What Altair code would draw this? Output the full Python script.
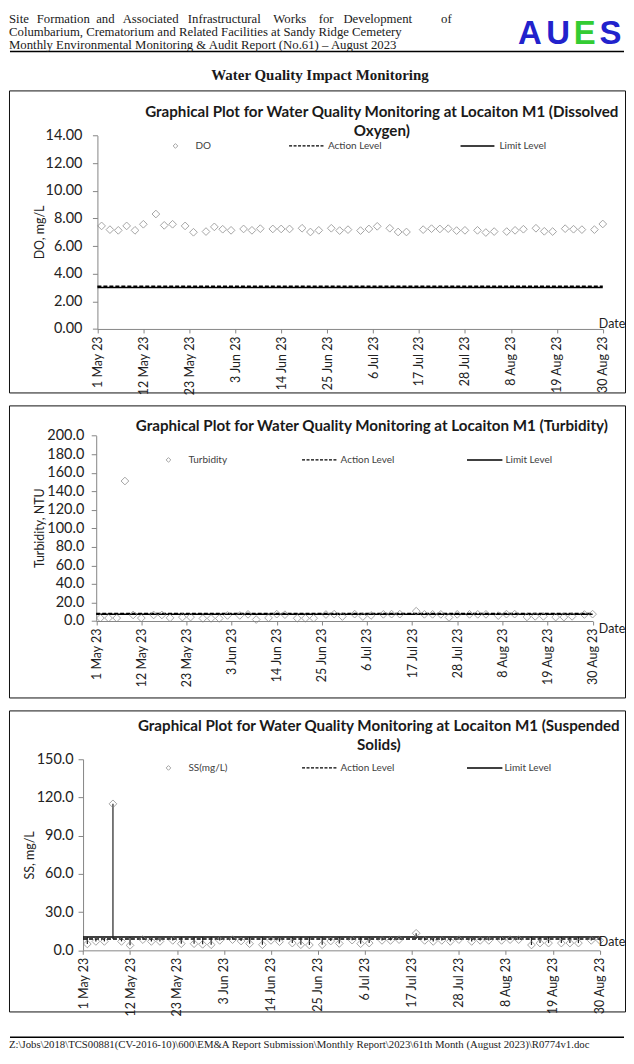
import altair as alt
import pandas as pd

# ---------------- data ----------------
dates = ["2023-05-02", "2023-05-04", "2023-05-06", "2023-05-08", "2023-05-10", "2023-05-12",
         "2023-05-15", "2023-05-17", "2023-05-19", "2023-05-22", "2023-05-24", "2023-05-27",
         "2023-05-29", "2023-05-31", "2023-06-02", "2023-06-05", "2023-06-07", "2023-06-09",
         "2023-06-12", "2023-06-14", "2023-06-16", "2023-06-19", "2023-06-21", "2023-06-23",
         "2023-06-26", "2023-06-28", "2023-06-30", "2023-07-03", "2023-07-05", "2023-07-07",
         "2023-07-10", "2023-07-12", "2023-07-14", "2023-07-18", "2023-07-20", "2023-07-22",
         "2023-07-24", "2023-07-26", "2023-07-28", "2023-07-31", "2023-08-02", "2023-08-04",
         "2023-08-07", "2023-08-09", "2023-08-11", "2023-08-14", "2023-08-16", "2023-08-18",
         "2023-08-21", "2023-08-23", "2023-08-25", "2023-08-28", "2023-08-30"]

do_values = [7.46, 7.19, 7.14, 7.46, 7.14, 7.58, 8.32, 7.50, 7.58, 7.46, 7.00, 7.05, 7.39,
             7.22, 7.14, 7.24, 7.14, 7.26, 7.24, 7.24, 7.24, 7.29, 7.02, 7.14, 7.29, 7.12,
             7.19, 7.12, 7.24, 7.43, 7.29, 7.02, 7.02, 7.19, 7.26, 7.24, 7.26, 7.12, 7.14,
             7.14, 6.98, 7.05, 7.05, 7.14, 7.22, 7.29, 7.07, 7.05, 7.26, 7.22, 7.19, 7.19, 7.60]

turbidity_values = [3.2, 3.2, 3.2, 151.0, 6.5, 3.2, 6.5, 6.5, 3.4, 4.2, 4.2, 2.8, 2.8, 2.8,
                    6.0, 6.0, 7.2, 1.6, 3.4, 7.4, 6.8, 3.0, 3.0, 3.0, 7.0, 7.4, 4.8, 7.4,
                    4.8, 6.0, 7.2, 7.4, 7.4, 10.6, 7.2, 7.2, 7.2, 3.9, 7.2, 7.2, 7.2, 7.2,
                    5.8, 7.4, 7.4, 4.4, 5.0, 5.0, 4.2, 4.2, 5.0, 7.0, 7.4]

ss_values = [5.0, 7.0, 7.0, 115.0, 7.0, 3.9, 8.4, 7.0, 7.0, 7.8, 5.2, 5.2, 4.7, 4.4, 7.8,
             8.4, 7.3, 5.2, 4.4, 7.8, 6.8, 5.7, 4.4, 4.2, 4.4, 7.3, 5.4, 8.0, 5.2, 5.7, 7.8,
             7.8, 8.4, 13.4, 7.8, 7.0, 7.8, 7.0, 8.4, 7.0, 7.8, 7.8, 7.8, 8.4, 8.4, 4.2, 5.7,
             5.7, 5.7, 5.7, 5.7, 7.8, 7.8]

tick_dates = ["2023-05-01", "2023-05-12", "2023-05-23", "2023-06-03", "2023-06-14", "2023-06-25",
              "2023-07-06", "2023-07-17", "2023-07-28", "2023-08-08", "2023-08-19", "2023-08-30"]
axis_start, axis_end = "2023-05-01", "2023-08-30"

do_action, do_limit = 3.1, 3.0
turb_action, turb_limit = 8.2, 7.2
ss_action, ss_limit = 8.9, 10.5

do_ticks = [0, 2, 4, 6, 8, 10, 12, 14]
turb_ticks = [0, 20, 40, 60, 80, 100, 120, 140, 160, 180, 200]
ss_ticks = [0, 30, 60, 90, 120, 150]

header_line1_words = ["Site", "Formation", "and", "Associated", "Infrastructural", "Works",
                      "for", "Development", "of"]
header_line2 = "Columbarium, Crematorium and Related Facilities at Sandy Ridge Cemetery"
header_line3 = "Monthly Environmental Monitoring & Audit Report (No.61) \u2013 August 2023"
section_title = "Water Quality Impact Monitoring"
footer_text = ("Z:\\Jobs\\2018\\TCS00881(CV-2016-10)\\600\\EM&A Report Submission\\Monthly Report"
               "\\2023\\61th Month (August 2023)\\R0774v1.doc")

# ---------------- layout ----------------
W = 618
FONT = "Lato"
SERIF = "Liberation Serif"
one = pd.DataFrame({"k": [0]})


def dt(s):
    y, m, d = s.split("-")
    return alt.DateTime(year=int(y), month=int(m), date=int(d), utc=True)


def txt(text, x, y, size, font=FONT, weight="normal", color="#1a1a1a", align="left",
        baseline="middle"):
    return alt.Chart(one).mark_text(text=text, font=font, fontSize=size, fontWeight=weight,
                                    color=color, align=align, baseline=baseline).encode(
        x=alt.value(x), y=alt.value(y))


def make_chart(values, name, ytitle, ydomain, yticks, yfmt, action, limit, H, xr, yr,
               title_lines, title_x, title_ys, ytitle_xy, leg, date_xy, ylabpad, highlow=False):
    df = pd.DataFrame({"date": dates, "value": values})
    lv = pd.DataFrame({"start": [axis_start] * 2, "end": [axis_end] * 2,
                       "level": [action, limit], "kind": ["Action", "Limit"]})
    xs = alt.Scale(type="utc", domain=[dt(axis_start), dt(axis_end)], range=list(xr))
    ys = alt.Scale(domain=list(ydomain), range=[yr[0], yr[1]], nice=False, zero=False)

    xaxis = alt.Axis(values=[dt(t) for t in tick_dates], format="%-d %b %y", labelAngle=270,
                     labelAlign="right", labelBaseline="middle", offset=yr[0] - H, title=None,
                     grid=False, domainColor="#868686", tickColor="#868686", tickSize=4,
                     labelPadding=3, labelFont=FONT, labelFontSize=12.5, labelColor="#222222")
    yaxis = alt.Axis(values=yticks, format=yfmt, offset=-xr[0], title=ytitle,
                     titleX=ytitle_xy[0] - xr[0], titleY=ytitle_xy[1], titleAngle=270,
                     titleAlign="center", titleBaseline="middle", titleFont=FONT,
                     titleFontSize=12.5, titleFontWeight="normal", titleColor="#222222",
                     labelFont=FONT, labelFontSize=14.5, labelColor="#222222", grid=False,
                     domainColor="#868686", tickColor="#868686", tickSize=5,
                     labelPadding=ylabpad)

    layers = []
    action_rule = alt.Chart(lv[lv.kind == "Action"]).mark_rule(
        color="black", strokeWidth=1.5, strokeDash=[4, 2]).encode(
        x=alt.X("start:T", scale=xs, axis=xaxis), x2="end:T",
        y=alt.Y("level:Q", scale=ys, axis=yaxis))
    limit_rule = alt.Chart(lv[lv.kind == "Limit"]).mark_rule(
        color="black", strokeWidth=1.5).encode(
        x=alt.X("start:T", scale=xs, axis=xaxis), x2="end:T",
        y=alt.Y("level:Q", scale=ys, axis=yaxis))
    layers += [action_rule, limit_rule]
    if highlow:
        hl = df.copy()
        hl["lo"] = hl["value"].clip(upper=min(action, limit))
        hl["hi"] = hl["value"].clip(lower=max(action, limit))
        layers.append(alt.Chart(hl).mark_rule(color="#222222", strokeWidth=1.2).encode(
            x=alt.X("date:T", scale=xs, axis=xaxis),
            y=alt.Y("lo:Q", scale=ys, axis=yaxis), y2="hi:Q"))
    points = alt.Chart(df).mark_point(shape="diamond", filled=False, size=60,
                                      color="#7f7f7f", strokeWidth=1).encode(
        x=alt.X("date:T", scale=xs, axis=xaxis),
        y=alt.Y("value:Q", scale=ys, axis=yaxis))
    layers.append(points)

    # titles
    for line, ty in zip(title_lines, title_ys):
        layers.append(txt(line, title_x, ty, 15.2, weight="bold", align="center"))
    # legend
    ly = leg["y"]
    layers.append(alt.Chart(one).mark_point(shape="diamond", filled=False, size=22,
                                            color="#7f7f7f", strokeWidth=1).encode(
        x=alt.value(leg["sym"]), y=alt.value(ly)))
    layers.append(txt(name, leg["name"], ly, 10, color="#404040"))
    layers.append(alt.Chart(one).mark_rule(color="black", strokeWidth=1.2,
                                           strokeDash=[3, 1.5]).encode(
        x=alt.value(leg["dash"][0]), x2=alt.value(leg["dash"][1]), y=alt.value(ly)))
    layers.append(txt("Action Level", leg["act"], ly, 10, color="#404040"))
    layers.append(alt.Chart(one).mark_rule(color="black", strokeWidth=1.5).encode(
        x=alt.value(leg["solid"][0]), x2=alt.value(leg["solid"][1]), y=alt.value(ly)))
    layers.append(txt("Limit Level", leg["lim"], ly, 10, color="#404040"))
    layers.append(txt("Date", date_xy[0], date_xy[1], 12.5, align="center", color="#222222"))

    return alt.layer(*layers).properties(
        width=W, height=H, view=alt.ViewBackground(stroke="#111111", strokeWidth=1))


# header panel
hx = [0, 27.8, 87.5, 114, 179.4, 265.2, 310.7, 335.5, 433.5]
header_layers = [alt.Chart(one).mark_rule(color="black", strokeWidth=1.5).encode(
    x=alt.value(1), x2=alt.value(W - 1), y=alt.value(41))]
for w, x in zip(header_line1_words, hx):
    header_layers.append(txt(w, x, 12.8, 12.8, font=SERIF, baseline="alphabetic"))
header_layers.append(txt(header_line2, 0, 25.6, 12.8, font=SERIF, baseline="alphabetic"))
header_layers.append(txt(header_line3, 0, 38.4, 12.8, font=SERIF, baseline="alphabetic"))
header_layers.append(txt(section_title, 312, 65, 15, font=SERIF, weight="bold", align="center"))
for letter, x, col in zip(["A", "U", "E", "S"], [522.5, 551, 577.5, 603.5],
                          ["#2222cc", "#2222cc", "#33cc33", "#2222cc"]):
    header_layers.append(txt(letter, x, 33, 33, font="Liberation Sans", weight="bold",
                             color=col, align="center", baseline="alphabetic"))
header = alt.layer(*header_layers).properties(
    width=W, height=67, view=alt.ViewBackground(stroke="transparent"))

c1 = make_chart(do_values, "DO", "DO, mg/L", (0, 14), do_ticks, ".2f", do_action, do_limit,
                303, (88.7, 595.7), (239.3, 45.3),
                ["Graphical Plot for Water Quality Monitoring at Locaiton M1  (Dissolved",
                 "Oxygen)"], 374, [22, 41], (30.6, 142),
                {"y": 55.7, "sym": 167, "name": 187, "dash": (281, 317), "act": 320,
                 "solid": (453, 487), "lim": 492}, (605, 234), 10.5)

c2 = make_chart(turbidity_values, "Turbidity", "Turbidity, NTU", (0, 200), turb_ticks, ".1f",
                turb_action, turb_limit, 293, (87.5, 585.5), (216.3, 30.3),
                ["Graphical Plot for Water Quality Monitoring at Locaiton M1  (Turbidity)"],
                364, [21], (30.6, 122.7),
                {"y": 54.7, "sym": 160, "name": 180, "dash": (294, 328.6), "act": 332.6,
                 "solid": (459.5, 495), "lim": 498}, (605, 224.7), 7.5)

c3 = make_chart(ss_values, "SS(mg/L)", "SS, mg/L", (0, 150), ss_ticks, ".1f",
                ss_action, ss_limit, 302, (74.3, 592.7), (240.7, 49),
                ["Graphical Plot for Water Quality Monitoring at Locaiton M1  (Suspended",
                 "Solids)"], 371, [15.7, 35], (20.5, 145),
                {"y": 57.7, "sym": 160, "name": 180, "dash": (294, 328.6), "act": 332.6,
                 "solid": (459.5, 495), "lim": 497}, (605, 232), 5, highlow=True)

footer = alt.layer(
    alt.Chart(one).mark_rule(color="black", strokeWidth=1.5).encode(
        x=alt.value(1), x2=alt.value(W - 1), y=alt.value(13)),
    txt(footer_text, 0, 23.5, 10.8, font=SERIF, baseline="alphabetic"),
).properties(width=W, height=24, view=alt.ViewBackground(stroke="transparent"))

chart = alt.vconcat(header, c1, c2, c3, footer, spacing=13, bounds="flush").properties(
    padding=0).configure(background="white")

chart.save("out.html", embed_options={"renderer": "svg", "actions": False})
